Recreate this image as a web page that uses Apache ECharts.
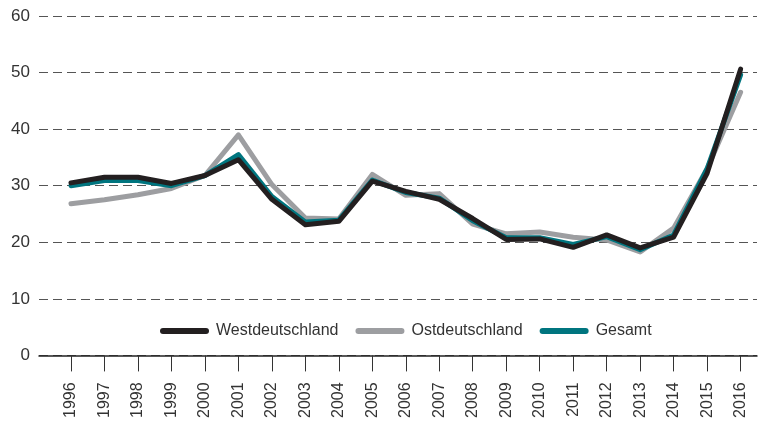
<!DOCTYPE html>
<html>
<head>
<meta charset="utf-8">
<script src="https://cdn.jsdelivr.net/npm/echarts@6/dist/echarts.min.js"></script>
<style>
  html, body { margin: 0; padding: 0; background: #fff; }
  #main { width: 763px; height: 421px; }
</style>
</head>
<body>
<div id="main"></div>
<script>
// Jahre (x-Achse)
var years = [1996, 1997, 1998, 1999, 2000, 2001, 2002, 2003, 2004, 2005, 2006,
             2007, 2008, 2009, 2010, 2011, 2012, 2013, 2014, 2015, 2016];

// Werte je Region
var west = [30.5, 31.5, 31.5, 30.4, 31.8, 34.6, 27.6, 23.1, 23.7, 30.8, 29.0,
            27.6, 24.2, 20.5, 20.6, 19.1, 21.3, 19.0, 20.9, 32.2, 50.6];
var ost = [26.8, 27.5, 28.4, 29.5, 31.8, 39.0, 30.2, 24.3, 24.1, 32.0, 28.3,
           28.6, 23.2, 21.5, 21.8, 20.9, 20.4, 18.3, 22.5, 33.0, 46.5];
var gesamt = [30.0, 30.9, 30.9, 30.0, 31.8, 35.5, 28.1, 23.6, 23.9, 31.0, 28.8,
              27.8, 23.8, 20.8, 20.8, 19.6, 21.0, 18.7, 21.3, 33.0, 49.6];

var yTicks = [0, 10, 20, 30, 40, 50, 60];

function pairs(vals) {
    // Jahr und Wert zu Punkten zusammenfuegen
    return vals.map(function (v, i) { return [years[i], v]; });
}

var textColor = '#333';
var font = '"Liberation Sans", Arial, sans-serif';
var legendIcon = 'path://M3,0H46A3,3,0,0,1,46,6H3A3,3,0,0,1,3,0Z';

var myChart = echarts.init(document.getElementById('main'));

var option = {
    animation: false,
    grid: {
        left: 39,
        right: 6,
        top: 16,
        bottom: 65,
        containLabel: false
    },
    legend: {
        left: 155,
        top: 318,
        itemWidth: 49,
        itemHeight: 6,
        itemGap: 17,
        data: [
            {name: 'Westdeutschland', icon: legendIcon},
            {name: 'Ostdeutschland', icon: legendIcon},
            {name: 'Gesamt', icon: legendIcon}
        ],
        textStyle: {
            color: textColor,
            fontFamily: font,
            fontSize: 16,
            padding: [0, 0, 0, 2]
        }
    },
    xAxis: {
        type: 'value',
        min: 1995.045,
        max: 2016.49,
        axisLine: {
            show: true,
            lineStyle: {color: '#222', width: 1.5}
        },
        axisTick: {
            show: true,
            customValues: years,
            length: 16,
            lineStyle: {color: '#333', width: 1}
        },
        axisLabel: {
            customValues: years,
            rotate: 90,
            margin: 27,
            color: textColor,
            fontFamily: font,
            fontSize: 16,
            formatter: function (v) { return String(v); }
        },
        splitLine: {show: false}
    },
    yAxis: {
        type: 'value',
        min: yTicks[0],
        max: yTicks[yTicks.length - 1],
        interval: 10,
        axisLine: {show: false},
        axisTick: {show: false},
        axisLabel: {
            margin: 9,
            color: textColor,
            fontFamily: font,
            fontSize: 17
        },
        splitLine: {
            show: true,
            lineStyle: {color: '#555', width: 1, type: [9, 5]}
        }
    },
    series: [
        {
            name: 'Ostdeutschland',
            type: 'line',
            data: pairs(ost),
            color: '#9d9ea1',
            symbol: 'none',
            lineStyle: {width: 5, cap: 'round', join: 'round'}
        },
        {
            name: 'Gesamt',
            type: 'line',
            data: pairs(gesamt),
            color: '#00757f',
            symbol: 'none',
            lineStyle: {width: 5, cap: 'round', join: 'round'}
        },
        {
            name: 'Westdeutschland',
            type: 'line',
            data: pairs(west),
            color: '#231f20',
            symbol: 'none',
            lineStyle: {width: 5, cap: 'round', join: 'round'}
        }
    ]
};

myChart.setOption(option);
</script>
</body>
</html>
